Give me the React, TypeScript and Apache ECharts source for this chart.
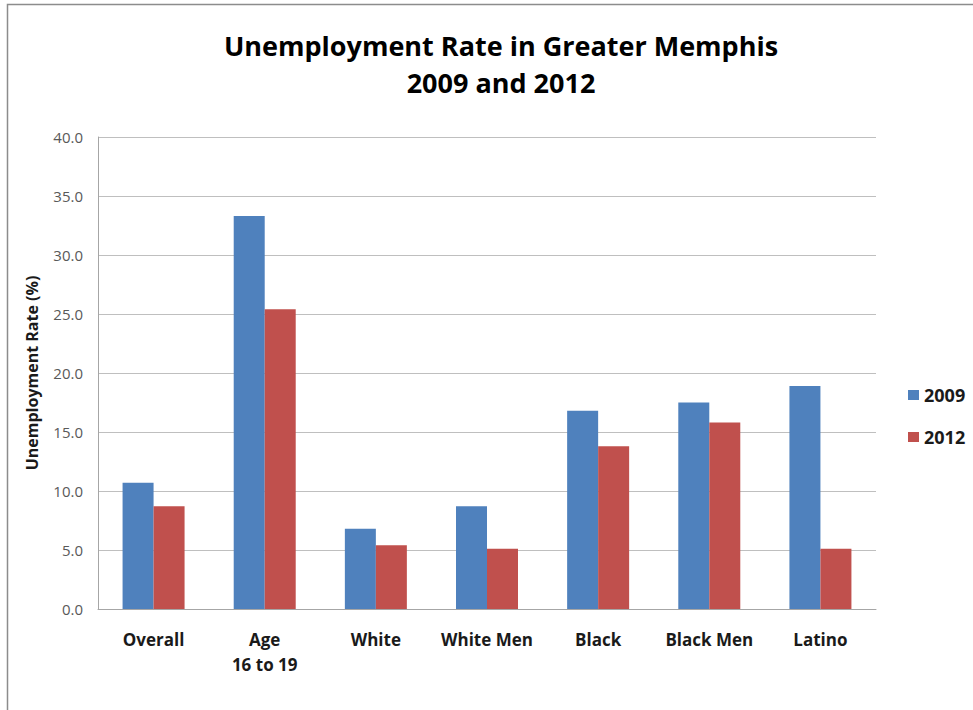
import React, { useEffect, useRef } from "react";
import * as echarts from "echarts";

const categories = ["Overall", "Age\n16 to 19", "White", "White Men", "Black", "Black Men", "Latino"];
const values2009 = [10.7, 33.3, 6.8, 8.7, 16.8, 17.5, 18.9];
const values2012 = [8.7, 25.4, 5.4, 5.1, 13.8, 15.8, 5.1];
const seriesNames = ["2009", "2012"];
const titleText = "Unemployment Rate in Greater Memphis\n2009 and 2012";
const yAxisName = "Unemployment Rate (%)";

const FONT = "'Open Sans', 'Noto Sans', sans-serif";

export default function App() {
  const ref = useRef<HTMLDivElement>(null);
  useEffect(() => {
    if (!ref.current) return;
    const chart = echarts.init(ref.current, null, { renderer: "svg" });
    chart.setOption({
      animation: false,
      backgroundColor: "#ffffff",
      title: {
        text: titleText,
        left: 496,
        textAlign: "center",
        top: 22,
        textStyle: {
          fontFamily: FONT,
          fontSize: 27,
          fontWeight: "bold",
          color: "#000000",
          lineHeight: 37,
        },
      },
      graphic: [
        {
          type: "rect",
          shape: { x: 7.5, y: 4.5, width: 1000, height: 800 },
          style: { fill: "none", stroke: "#8c8c8c", lineWidth: 1.5 },
          silent: true,
        },
      ],
      legend: {
        orient: "vertical",
        left: 903,
        top: 380,
        itemWidth: 11,
        itemHeight: 10,
        itemGap: 22,
        icon: "rect",
        textStyle: { fontFamily: FONT, fontSize: 18, fontWeight: "bold", color: "#1a1a1a", lineHeight: 20 },
        data: seriesNames,
      },
      grid: { left: 98, right: 97, top: 137, bottom: 101, containLabel: false },
      xAxis: {
        type: "category",
        data: categories,
        axisLine: { show: true, lineStyle: { color: "#a6a6a6" } },
        axisTick: { show: false },
        axisLabel: {
          fontFamily: FONT,
          fontSize: 17,
          fontWeight: "bold",
          color: "#1a1a1a",
          margin: 18,
          lineHeight: 25,
          interval: 0,
        },
      },
      yAxis: {
        type: "value",
        min: 0,
        max: 40,
        interval: 5,
        name: yAxisName,
        nameLocation: "middle",
        nameGap: 58,
        nameTextStyle: { fontFamily: FONT, fontSize: 16, fontWeight: "bold", color: "#1a1a1a" },
        axisLine: { show: true, lineStyle: { color: "#a6a6a6" } },
        axisTick: { show: false },
        splitLine: { show: true, lineStyle: { color: "#bfbfbf", width: 1 } },
        axisLabel: {
          fontFamily: FONT,
          fontSize: 15,
          color: "#595959",
          margin: 15,
          formatter: (v: number) => v.toFixed(1),
        },
      },
      series: [
        {
          name: seriesNames[0],
          type: "bar",
          data: values2009,
          barWidth: 31,
          barGap: "0%",
          itemStyle: { color: "#4f81bd" },
        },
        {
          name: seriesNames[1],
          type: "bar",
          data: values2012,
          barWidth: 31,
          barGap: "0%",
          itemStyle: { color: "#c0504d" },
        },
      ],
    });
    return () => chart.dispose();
  }, []);
  return (
    <div
      ref={ref}
      style={{ width: 973, height: 710, position: "absolute", left: 0, top: 0 }}
    />
  );
}
